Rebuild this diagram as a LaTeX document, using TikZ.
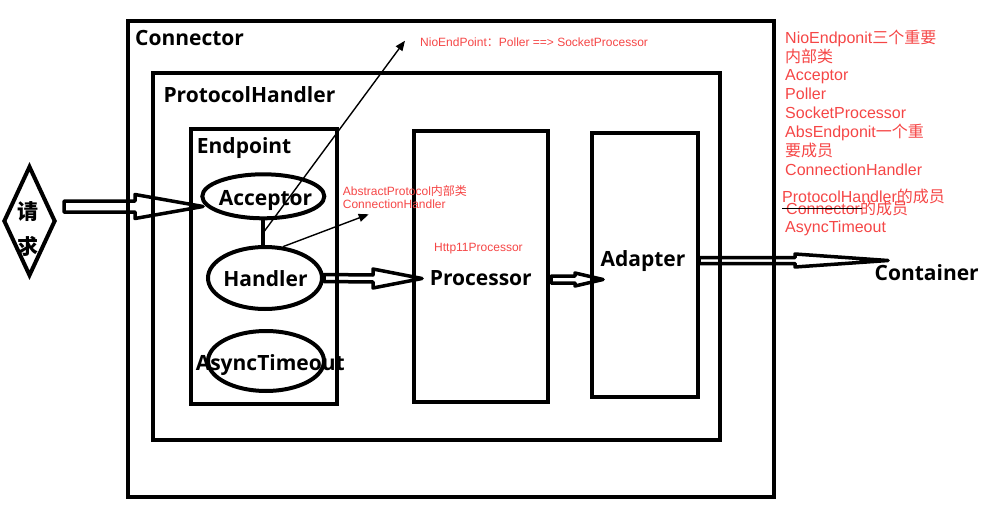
\documentclass[tikz,border=0pt]{standalone}
\usepackage{fontspec}
\setmainfont{Liberation Sans}
\newfontfamily\lblfont{Open Sans}
\newfontfamily\cjk{Noto Sans CJK SC}
\usetikzlibrary{arrows.meta,shapes.geometric,calc}

\definecolor{notered}{RGB}{245,70,70}

\tikzset{
  box/.style={draw, line width=4pt, rectangle, inner sep=0pt},
  oval/.style={draw, line width=4pt, ellipse, inner sep=0pt},
  lbl/.style={font=\lblfont\bfseries\fontsize{21}{25}\selectfont, inner sep=0pt, anchor=base},
  note/.style={text=notered, font=\fontsize{12}{14}\selectfont, inner sep=0pt, anchor=base west},
  sidenote/.style={text=notered, font=\fontsize{16}{19}\selectfont, inner sep=0pt, anchor=base west},
  pointer/.style={-{Triangle[length=10pt,width=8pt]}, line width=1.4pt},
}

% start, end, shaft half width, head half width, head length
\newcommand{\hollowarrow}[5]{%
  \draw[line width=3.5pt, line join=round]
    ($(#1)+(0,-#3)$) -- ($(#2)+(-#5,-#3)$) -- ($(#2)+(-#5,-#4)$) -- (#2)
    -- ($(#2)+(-#5,#4)$) -- ($(#2)+(-#5,#3)$) -- ($(#1)+(0,#3)$) -- cycle;}

\begin{document}
\begin{tikzpicture}[x=1pt,y=-1pt]
    \useasboundingbox (0,0) rectangle (989,527);

    % Boxes
    \node[box, minimum width=645.5pt, minimum height=475.5pt] (conn) at (450.75,258.75) {};
    \node[box, minimum width=567.5pt, minimum height=366.5pt] (proto) at (436.25,256.75) {};
    \node[box, minimum width=146pt, minimum height=275.5pt] (endp) at (264,266.25) {};
    \node[box, minimum width=134pt, minimum height=270.4pt] (proc) at (481,266.5) {};
    \node[box, minimum width=106pt, minimum height=264pt] (adapt) at (645,265) {};

    % Box labels
    \node[lbl, anchor=base west] (connlbl) at (135,46) {Connector};
    \node[lbl, anchor=base west] (protolbl) at (163.3,102.3) {ProtocolHandler};
    \node[lbl, anchor=base west] (endplbl) at (196.7,153.3) {Endpoint};
    \node[lbl] (proclbl) at (480.8,285.7) {Processor};
    \node[lbl] (adaptlbl) at (643,266.7) {Adapter};
    \node[lbl] (contlbl) at (926.7,280.7) {Container};

    % Endpoint parts
    \node[oval, minimum width=122pt, minimum height=44pt] (acc) at (263.3,196.3) {};
    \node[oval, minimum width=114pt, minimum height=62pt] (hdl) at (265,278) {};
    \node[oval, minimum width=116pt, minimum height=60pt] (async) at (266,361) {};
    \node[lbl] (acctxt) at (265.5,205) {Acceptor};
    \node[lbl] (hdltxt) at (265.5,286) {Handler};
    \node[lbl] (asynctxt) at (270.3,370) {AsyncTimeout};
    \draw[line width=4pt] (acc.south) -- (acc.south |- hdl.north);

    % Request
    \node[draw, line width=4pt, diamond, inner sep=0pt, minimum width=52pt, minimum height=110pt] (req) at (29.5,221) {};
    \node[font=\cjk\bfseries\fontsize{21}{35}\selectfont, align=center, inner sep=0pt] (reqtxt) at (28.3,229.2) {请\\求};

    % Flow
    \coordinate (reqout) at (64,206.5);
    \coordinate (accin) at (203,206.5);
    \coordinate (procin) at (422,278.5);
    \coordinate (procout) at (551,279.5);
    \coordinate (adin) at (603,279.5);
    \coordinate (adout) at (699,260.5);
    \coordinate (conttip) at (888,260.5);
    \hollowarrow{reqout}{accin}{5.5}{12}{68}
    \hollowarrow{hdl.east}{procin}{3.5}{9.5}{49}
    \hollowarrow{procout}{adin}{3.5}{6.5}{28}
    \hollowarrow{adout}{conttip}{3}{6.5}{93}

    % Notes
    \node[note] (nionote) at (420,46.7) {NioEndPoint{\cjk ：}Poller ==> SocketProcessor};
    \node[note] (absnote) at (342.7,195) {AbstractProtocol{\cjk 内部类}};
    \node[note] (connhnote) at (342.7,208.3) {ConnectionHandler};
    \node[note] (httpnote) at (434,251.7) {Http11Processor};

    \coordinate (link) at ($(acc.south)!0.5!(acc.south |- hdl.north)$);
    \draw[pointer] (link) -- ([xshift=-15pt,yshift=6pt]nionote.base west);
    \draw[pointer] (hdl.60) -- ([xshift=26pt,yshift=-6pt]connhnote.base west);

    % Side notes
    \foreach \txt [count=\i from 0] in {{NioEndponit{\cjk 三个重要}}, {{\cjk 内部类}}, Acceptor, Poller, SocketProcessor, {AbsEndponit{\cjk 一个重}}, {{\cjk 要成员}}, ConnectionHandler}
        \node[sidenote] (side\i) at (785,{43.3+\i*18.85}) {\txt};
    \node[sidenote] (phmember) at (782,202.7) {ProtocolHandler{\cjk 的成员}};
    \node[sidenote] (connmember) at (786,214) {Connector{\cjk 的成员}};
    \draw[line width=1.5pt] (782,208.3) -- (862,208.3);
    \node[sidenote] (asyncnote) at (785,232.3) {AsyncTimeout};
\end{tikzpicture}
\end{document}
